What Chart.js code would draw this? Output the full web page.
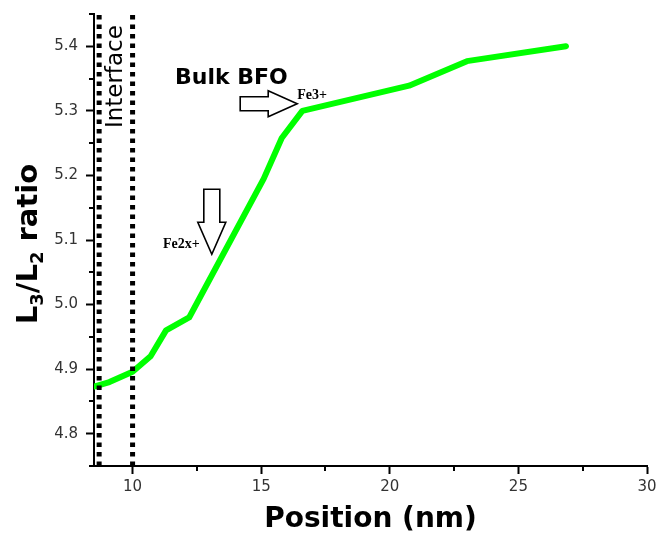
<!DOCTYPE html>
<html>
<head>
<meta charset="utf-8">
<script src="https://cdn.jsdelivr.net/npm/chart.js@4/dist/chart.umd.min.js"></script>
<style>
  body { margin: 0; background: #fff; }
</style>
</head>
<body>
<canvas id="myChart" width="657" height="543"></canvas>
<script>
// values
const positions = [8.5, 9.1, 10.0, 10.7, 11.3, 12.2, 15.1, 15.8, 16.6, 20.75, 23.0, 26.85];
const ratios = [4.873, 4.880, 4.896, 4.920, 4.960, 4.980, 5.195, 5.258, 5.300, 5.339, 5.377, 5.400];
const interfaceLines = [8.7, 10.0];
const xTicks = [10, 15, 20, 25, 30];
const yTicks = [4.8, 4.9, 5.0, 5.1, 5.2, 5.3, 5.4];
const xMinorTicks = [12.5, 17.5, 22.5, 27.5];
const yMinorTicks = [4.75, 4.85, 4.95, 5.05, 5.15, 5.25, 5.35, 5.45];

// annotation anchors in data units
const labels = [
    { x: 9.36, y: 5.353, text: 'Interface', font: '23px "DejaVu Sans"', rotate: true },
    { x: 11.65, y: 5.342, text: 'Bulk BFO', font: 'bold 22px "DejaVu Sans"' },
    { x: 16.4, y: 5.318, text: 'Fe3+', font: 'bold 14px "Liberation Serif"' },
    { x: 11.18, y: 5.088, text: 'Fe2x+', font: 'bold 14px "Liberation Serif"' }
];
const arrows = [
    { x: 16.4, y: 5.311, angle: 0, len: 57, head: 29, headW: 26, shaftW: 14 },
    { x: 13.08, y: 5.078, angle: Math.PI / 2, len: 65, head: 32, headW: 28, shaftW: 16 }
];

const extras = {
    id: 'extras',
    afterDraw(chart) {
        const ctx = chart.ctx;
        const xs = chart.scales.x, ys = chart.scales.y;
        const area = chart.chartArea;
        ctx.save();

        // minor ticks
        ctx.strokeStyle = '#000';
        ctx.lineWidth = 2;
        ctx.beginPath();
        xMinorTicks.forEach(v => {
            const px = Math.round(xs.getPixelForValue(v));
            ctx.moveTo(px, area.bottom);
            ctx.lineTo(px, area.bottom + 5);
        });
        yMinorTicks.forEach(v => {
            const py = Math.round(ys.getPixelForValue(v));
            ctx.moveTo(area.left - 5, py);
            ctx.lineTo(area.left, py);
        });
        ctx.stroke();

        // hollow block arrows
        arrows.forEach(a => {
            const tx = xs.getPixelForValue(a.x), ty = ys.getPixelForValue(a.y);
            ctx.save();
            ctx.translate(tx, ty);
            ctx.rotate(a.angle);
            ctx.beginPath();
            ctx.moveTo(-a.len, -a.shaftW / 2);
            ctx.lineTo(-a.head, -a.shaftW / 2);
            ctx.lineTo(-a.head, -a.headW / 2);
            ctx.lineTo(0, 0);
            ctx.lineTo(-a.head, a.headW / 2);
            ctx.lineTo(-a.head, a.shaftW / 2);
            ctx.lineTo(-a.len, a.shaftW / 2);
            ctx.closePath();
            ctx.fillStyle = '#fff';
            ctx.fill();
            ctx.lineWidth = 1.6;
            ctx.strokeStyle = '#000';
            ctx.stroke();
            ctx.restore();
        });

        // text labels
        ctx.fillStyle = '#000';
        labels.forEach(l => {
            const px = xs.getPixelForValue(l.x), py = ys.getPixelForValue(l.y);
            ctx.font = l.font;
            if (l.rotate) {
                ctx.save();
                ctx.translate(px, py);
                ctx.rotate(-Math.PI / 2);
                ctx.textAlign = 'center';
                ctx.textBaseline = 'middle';
                ctx.fillText(l.text, 0, 0);
                ctx.restore();
            } else {
                ctx.textAlign = 'left';
                ctx.textBaseline = 'alphabetic';
                ctx.fillText(l.text, px, py);
            }
        });

        // y axis title with subscripts
        const main = 'bold 29px "DejaVu Sans"', sub = 'bold 18px "DejaVu Sans"';
        const parts = [['L', main, 0], ['3', sub, 6], ['/L', main, 0], ['2', sub, 6], [' ratio', main, 0]];
        let total = 0;
        parts.forEach(p => { ctx.font = p[1]; total += ctx.measureText(p[0]).width; });
        ctx.translate(37, (area.top + area.bottom) / 2 + 4);
        ctx.rotate(-Math.PI / 2);
        ctx.textAlign = 'left';
        ctx.textBaseline = 'alphabetic';
        let cx = -total / 2;
        parts.forEach(p => {
            ctx.font = p[1];
            ctx.fillText(p[0], cx, p[2]);
            cx += ctx.measureText(p[0]).width;
        });
        ctx.restore();
    }
};

const ctx = document.getElementById('myChart').getContext('2d');
const chart = new Chart(ctx, {
    type: 'line',
    data: {
        datasets: [
            ...interfaceLines.map(x => ({
                label: 'Interface',
                data: [{ x: x, y: 4.75 }, { x: x, y: 5.45 }],
                borderColor: '#000',
                borderWidth: 5,
                borderDash: [4.5, 5],
                pointRadius: 0
            })),
            {
                label: 'L3/L2 ratio',
                data: positions.map((x, i) => ({ x: x, y: ratios[i] })),
                borderColor: '#00ff00',
                borderWidth: 6,
                borderJoinStyle: 'round',
                borderCapStyle: 'round',
                pointRadius: 0,
                tension: 0
            }
        ]
    },
    options: {
        responsive: false,
        animation: false,
        layout: { padding: { top: 14, right: 10, left: 0, bottom: 0 } },
        plugins: {
            legend: { display: false },
            tooltip: { enabled: false }
        },
        scales: {
            x: {
                type: 'linear',
                min: 8.5,
                max: 30,
                afterBuildTicks: s => { s.ticks = xTicks.map(v => ({ value: v })); },
                afterFit: s => { s.height = 77; s.paddingLeft = 0; s.paddingRight = 0; },
                border: { color: '#000', width: 2 },
                grid: { drawOnChartArea: false, tickLength: 8, tickColor: '#000', tickWidth: 2 },
                ticks: {
                    color: '#333',
                    font: { family: 'DejaVu Sans', size: 15 },
                    padding: 4,
                    maxRotation: 0
                },
                title: {
                    display: true,
                    text: 'Position (nm)',
                    color: '#000',
                    font: { family: 'DejaVu Sans', size: 28, weight: 'bold' },
                    padding: { top: 0, bottom: 6 }
                }
            },
            y: {
                type: 'linear',
                min: 4.75,
                max: 5.45,
                afterBuildTicks: s => { s.ticks = yTicks.map(v => ({ value: v })); },
                afterFit: s => { s.width = 94; s.paddingTop = 0; s.paddingBottom = 0; },
                border: { color: '#000', width: 2 },
                grid: { drawOnChartArea: false, tickLength: 8, tickColor: '#000', tickWidth: 2 },
                ticks: {
                    color: '#333',
                    font: { family: 'DejaVu Sans', size: 15 },
                    padding: 8,
                    callback: v => v.toFixed(1)
                }
            }
        }
    },
    plugins: [extras]
});
</script>
</body>
</html>
